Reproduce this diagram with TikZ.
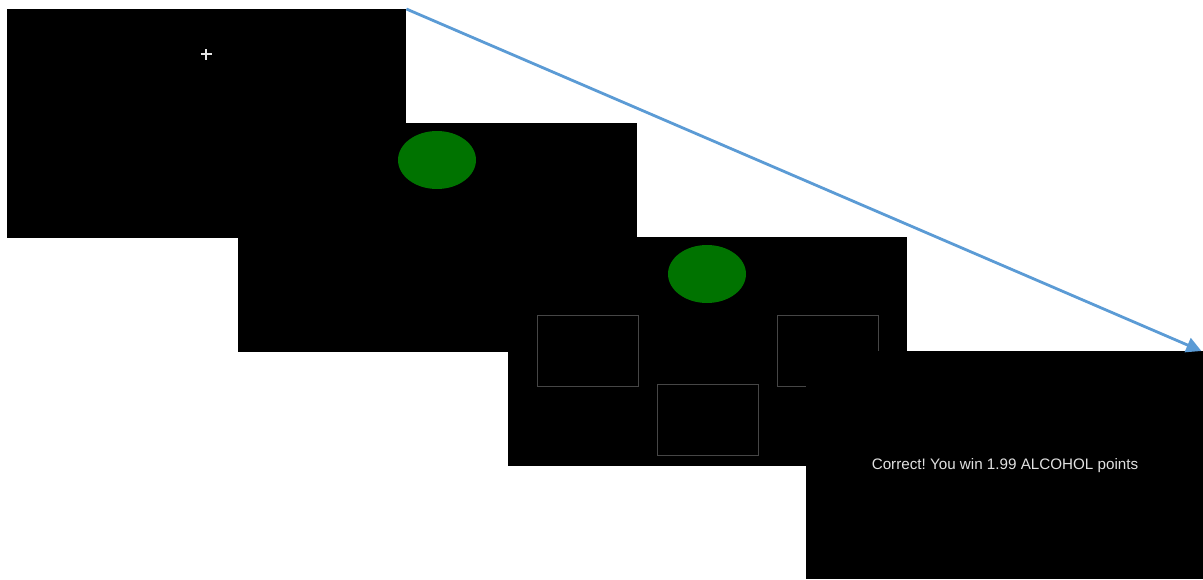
\documentclass[tikz,border=0pt]{standalone}
\usepackage{fontspec}
\setmainfont{Liberation Sans}
\frenchspacing
\usetikzlibrary{shapes.geometric,arrows.meta}
\definecolor{stimgreen}{RGB}{0,115,0}
\definecolor{arrowblue}{RGB}{91,155,213}
\definecolor{boxgray}{RGB}{70,70,70}
\definecolor{textgray}{RGB}{225,225,225}
\tikzset{
  screen/.style={fill=black, draw=none, inner sep=0pt, minimum width=399pt, minimum height=229pt, anchor=north west},
  cue/.style={ellipse, fill=stimgreen, draw=none, inner sep=0pt, minimum width=78pt, minimum height=58pt},
  optbox/.style={draw=boxgray, line width=1pt, fill=black, inner sep=0pt, minimum width=101pt, minimum height=71pt, anchor=north west},
  flow/.style={draw=arrowblue, line width=2.8pt, -{Triangle[length=15pt,width=15pt]}}
}
\begin{document}
\begin{tikzpicture}[x=1pt,y=-1pt]
\useasboundingbox (0,0) rectangle (1203,579);
\node[screen] (s1) at (7,9) {};
\node (plus) at (206,54) {};
\draw[white!90!black, line width=1.6pt] ([xshift=-5.5pt]plus.center) -- ([xshift=5.5pt]plus.center);
\draw[white!90!black, line width=1.6pt] ([yshift=-5.5pt]plus.center) -- ([yshift=5.5pt]plus.center);
\node[screen] (s2) at (238,123) {};
\node[cue] (c2) at (437,160) {};
\node[screen] (s3) at (508,237) {};
\node[cue] (c3) at (707,274) {};
\node[optbox] (bl) at (537,315) {};
\node[optbox] (br) at (777,315) {};
\node[optbox] (bb) at (657,384) {};
\node[screen, minimum width=397pt, minimum height=228pt] (s4) at (806,351) {};
\node[text=textgray, font=\fontsize{15.2pt}{17pt}\selectfont, inner sep=0pt] (fb) at (1005,466) {Correct! You win 1.99 ALCOHOL points};
\draw[flow] (s1.north east) -- ([xshift=-2pt]s4.north east);
\end{tikzpicture}
\end{document}
